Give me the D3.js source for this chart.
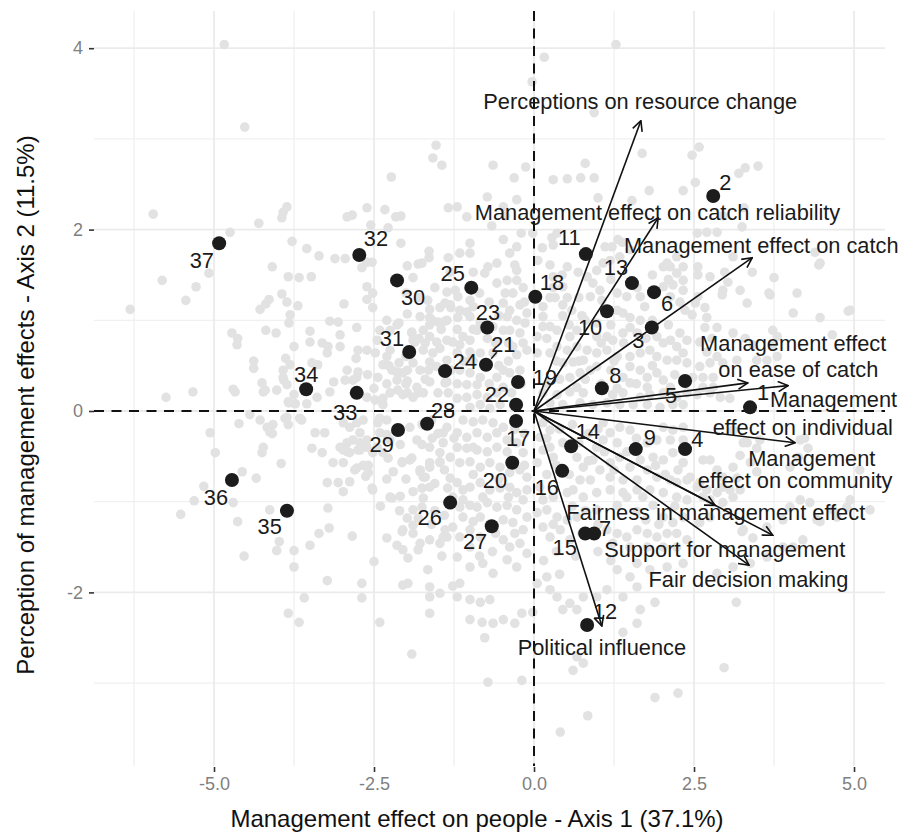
<!DOCTYPE html>
<meta charset="utf-8">
<script src="https://d3js.org/d3.v7.min.js"></script>
<style>
  body { margin: 0; background: #fff; }
  text { font-family: "Liberation Sans", Arial, Helvetica, sans-serif; }
</style>
<svg width="907" height="832"></svg>

<script>
    // axis limits and ticks
    const xLimits = [-6.875, 5.484],
        yLimits = [-3.914, 4.41];
    const xTicks = [-5, -2.5, 0, 2.5, 5],
        xTickLabels = ["-5.0", "-2.5", "0.0", "2.5", "5.0"];
    const yTicks = [-2, 0, 2, 4],
        yTickLabels = ["-2", "0", "2", "4"];
    const xMinor = [-6.25, -3.75, -1.25, 1.25, 3.75],
        yMinor = [-3, -1, 1, 3];

    // individual respondents (grey cloud)
    const greyScores = [
        [-4.84,4.04],[-4.52,3.13],[-1.53,2.93],[-1.58,2.79],[-1.44,2.71],[-2.23,2.58],[-1.34,2.24],[-5.95,2.17],[-3.86,2.25],[-3.92,2.19],
        [-3.94,2.13],[-4.30,2.07],[-4.75,1.97],[-2.92,2.14],[-2.84,2.16],[-2.61,2.24],[-2.33,2.22],[-2.16,2.14],[-2.08,2.15],[-2.55,2.05],
        [-2.28,2.02],[-3.78,1.87],[-3.55,1.79],[-3.36,1.71],[-3.11,1.68],[-2.95,1.68],[-2.08,1.85],[-1.64,1.76],[-1.64,1.69],[-2.61,1.64],
        [-2.53,1.64],[-2.69,1.58],[-5.81,1.44],[-5.08,1.52],[-5.28,1.37],[-5.44,1.22],[-6.31,1.12],[-4.09,1.59],[-3.84,1.48],[-3.67,1.47],
        [-3.48,1.48],[-1.98,1.60],[-1.81,1.62],[-1.89,1.47],[-1.55,1.36],[-3.94,1.29],[-3.86,1.20],[-3.69,1.16],[-4.14,1.23],[-4.19,1.18],
        [-4.28,1.12],[-3.81,1.06],[-3.83,0.97],[-2.61,1.37],[-2.61,1.23],[-2.97,1.18],[-1.98,1.07],[-1.63,1.12],[-1.39,1.19],[-1.30,1.14],
        [-3.19,0.99],[-3.06,0.98],[-2.11,0.97],[-1.63,1.03],[-1.63,0.95],[-1.39,0.99],[-4.72,0.86],[-4.63,0.80],[-4.64,0.73],[-4.19,0.89],
        [-4.03,0.86],[-3.50,0.88],[-3.50,0.76],[-3.75,0.71],[-3.31,0.75],[-3.22,0.71],[-3.03,0.71],[-3.03,0.84],[-2.77,0.92],[-2.75,0.67],
        [-2.61,0.67],[-2.48,0.64],[-1.91,0.86],[-1.86,0.76],[-1.70,0.75],[-4.38,0.55],[-4.38,0.47],[-3.88,0.58],[-3.81,0.51],[-3.92,0.45],
        [-3.91,0.34],[-3.47,0.53],[-2.78,0.58],[-2.27,0.50],[-2.11,0.53],[-2.14,0.43],[-1.98,0.45],[-1.63,0.54],[-2.92,0.45],[-2.75,0.43],
        [-3.13,0.32],[-2.95,0.34],[-2.44,0.37],[-2.14,0.34],[-1.98,0.33],[-4.25,0.31],[-4.20,0.23],[-4.02,0.23],[-3.86,0.29],[-4.70,0.24],
        [-5.33,0.21],[-5.75,0.15],[-3.75,0.18],[-3.39,0.15],[-3.19,0.21],[-2.61,0.15],[-2.36,0.14],[-1.98,0.20],[-2.13,0.23],[-1.81,0.20],
        [-1.34,0.20],[-1.39,0.31],[-3.83,0.09],[-3.23,0.64],[-3.38,0.51],[-2.77,0.37],[-2.83,0.34],[-3.92,0.37],
        [-4.44,-0.04],[-4.61,-0.14],[-5.06,-0.24],[-4.98,-0.46],[-4.28,-0.10],[-4.17,-0.18],[-4.08,-0.15],[-4.09,-0.25],[-3.89,-0.08],[-3.84,-0.15],
        [-3.63,-0.10],[-3.42,-0.24],[-3.27,-0.24],[-4.23,-0.40],[-4.25,-0.46],[-3.47,-0.41],[-3.31,-0.46],[-3.14,-0.57],[-2.98,-0.57],[-2.98,-0.13],
        [-2.88,-0.18],[-2.77,-0.13],[-2.67,-0.10],[-3.03,-0.40],[-2.92,-0.35],[-2.83,-0.32],[-2.72,-0.35],[-2.75,-0.43],[-2.91,-0.45],[-2.80,-0.65],
        [-2.67,-0.60],[-2.59,-0.60],[-2.88,-0.78],[-3.06,-0.79],[-3.23,-0.79],[-2.98,-0.89],[-2.63,-0.72],[-2.53,-0.85],[-2.44,-0.13],[-2.30,-0.26],
        [-2.45,-0.40],[-2.36,-0.46],[-2.28,-0.52],[-2.06,-0.57],[-1.94,-0.54],[-1.75,-0.37],[-1.59,-0.30],[-1.42,-0.24],[-1.42,-0.35],[-1.78,-0.67],
        [-1.73,-0.73],[-1.63,-0.57],[-1.47,-0.57],[-1.89,-0.89],[-1.63,-0.84],[-1.73,-0.96],[-2.22,-0.96],[-2.09,-0.94],[-3.95,-0.58],[-4.56,-0.67],
        [-4.34,-0.74],[-5.16,-0.83],[-5.31,-0.99],[-5.52,-1.14],[-4.70,-1.01],[-4.63,-1.22],[-4.53,-1.60],[-4.13,-1.09],[-3.98,-1.44],[-4.02,-1.54],
        [-3.75,-1.54],[-3.75,-1.72],[-3.50,-1.48],[-3.36,-1.35],[-3.20,-1.29],[-3.22,-1.07],[-2.84,-1.38],[-3.23,-1.87],[-2.69,-1.90],[-2.69,-2.06],
        [-2.50,-1.66],[-2.41,-2.33],[-3.59,-2.06],[-3.84,-2.23],[-3.67,-2.33],[-1.91,-2.68],[-2.14,-1.48],[-2.05,-1.53],[-1.97,-1.62],[-1.98,-1.18],
        [-2.06,-1.33],[-1.89,-1.26],[-1.81,-1.18],[-1.81,-1.53],[-1.78,-1.46],[-1.66,-1.75],[-1.63,-1.94],[-1.47,-2.01],[-1.63,-2.05],[-1.63,-2.23],
        [-1.44,-1.60],[-1.27,-1.93],[-2.05,-1.92],[-1.97,-1.90],[-1.42,-1.39],[-1.39,-1.31],
        [-4.67,0.21],[-4.23,0.21],[-3.84,0.10],[-3.73,0.08],[-3.55,0.08],[-4.13,-0.23],[-3.86,-0.07],[-3.66,-0.08],[-2.72,-0.24],[-2.61,-0.32],
        [-2.98,-0.43],[-2.88,-0.46],[-2.72,-0.43],[-2.61,-0.40],[-2.77,-0.63],[-2.59,-0.68],
        [-2.05,0.18],[-1.89,0.15],[-1.73,0.20],[-2.25,0.20],[-2.48,0.12],[-2.36,0.07],[-2.41,-0.08],[-1.20,0.14],[-1.05,0.15],[-0.89,0.18],
        [-0.73,0.15],[-0.58,0.20],[-1.00,0.04],[-0.84,0.07],[-0.69,0.03],[-0.53,0.07],[-1.11,-0.10],[-0.95,-0.12],[-0.80,-0.10],[-0.64,-0.13],
        [-0.48,-0.18],[-1.36,-0.18],[-1.20,-0.24],[-1.05,-0.29],[-0.89,-0.24],[-0.73,-0.29],[-0.58,-0.24],[-0.42,-0.32],[-1.94,-0.18],[-1.83,-0.32],
        [-2.41,-0.24],[-2.25,-0.32],[-2.09,-0.37],[-2.52,-0.46],[-1.63,-0.40],[-1.47,-0.46],[-1.31,-0.51],[-1.20,-0.40],[-1.05,-0.41],[-0.89,-0.43],
        [-0.73,-0.45],[-0.58,-0.40],[-0.42,-0.45],[-0.27,-0.35],[-0.17,-0.46],[-1.16,-0.57],[-1.00,-0.56],[-0.84,-0.62],[-0.69,-0.57],[-0.53,-0.62],
        [-0.38,-0.68],[-0.22,-0.65],[-0.11,-0.73],[-1.78,-0.65],[-1.63,-0.62],[-1.47,-0.56],[-2.06,-0.56],[-1.91,-0.52],[-2.20,-0.67],[-1.70,-0.73],
        [-1.31,-0.74],[-1.20,-0.79],[-1.11,-0.87],[-1.00,-0.84],[-0.84,-0.79],[-0.69,-0.87],[-0.53,-0.85],[-0.38,-0.84],[-0.27,-0.90],[-0.17,-0.98],
        [-0.11,-0.87],[-2.25,-0.95],[-2.52,-0.87],[-1.27,-0.95],[-1.11,-0.98],[-1.00,-1.04],[-1.16,-1.06],[-0.89,-1.06],[-0.73,-1.01],[-0.58,-1.06],
        [-0.42,-1.04],[-0.27,-1.09],[-0.11,-1.17],[-1.89,-1.09],[-1.75,-1.06],[-1.11,-1.17],[-0.95,-1.22],[-0.84,-1.17],[-0.48,-1.20],[-0.33,-1.23],
        [-0.17,-1.31],[-2.05,-1.31],[-1.89,-1.35],[-1.63,-1.42],[-1.27,-1.28],[-1.16,-1.39],[-1.00,-1.31],[-0.84,-1.39],[-1.00,-1.50],[-0.48,-1.42],
        [-0.38,-1.50],[-0.22,-1.46],[-1.47,-1.46],[-1.36,-1.39],[-1.20,-1.61],[-1.00,-1.72],[-0.80,-1.68],[-0.64,-1.79],[-0.42,-1.64],[-0.27,-1.72],
        [-0.11,-1.57],
        [-1.75,1.63],[-1.34,1.69],[-1.16,1.74],[-1.00,1.85],[-1.00,1.74],[-0.48,1.89],[-0.27,1.81],[-0.38,1.74],[-0.58,1.63],[-0.30,1.61],
        [-0.27,1.55],[-0.95,1.53],[-0.72,1.59],[-0.77,1.52],[-1.31,1.53],[-0.58,1.41],[-0.42,1.44],[-0.27,1.44],[-0.17,1.36],[-0.33,1.30],
        [-1.36,1.31],[-1.23,1.33],[-1.19,1.26],[-1.66,1.22],[-1.47,1.14],[-1.31,1.17],[-1.16,1.11],[-1.00,1.22],[-0.95,1.15],[-1.05,1.09],
        [-0.48,1.19],[-0.38,1.11],[-0.22,1.17],[-0.11,1.08],[-2.52,1.30],[-2.52,1.14],[-1.78,1.04],[-1.59,1.00],[-1.50,0.98],[-1.36,1.00],
        [-1.19,1.03],[-1.00,1.04],[-0.84,0.97],[-0.73,0.80],[-0.64,0.93],[-0.42,1.04],[-0.27,1.00],[-0.14,0.97],[-0.38,0.89],[-2.14,0.95],
        [-2.25,0.89],[-2.41,0.89],[-2.45,0.78],[-1.91,0.87],[-1.89,0.78],[-1.73,0.89],[-1.63,0.82],[-1.52,0.76],[-1.36,0.78],[-1.27,0.76],
        [-1.11,0.82],[-1.16,0.73],[-1.00,0.78],[-0.89,0.89],[-0.48,0.89],[-0.22,0.86],[-0.17,0.75],[-0.33,0.71],[-0.11,0.67],[-0.27,0.62],
        [-2.25,0.67],[-2.30,0.60],[-2.36,0.51],[-2.22,0.45],[-1.73,0.67],[-1.58,0.64],[-1.47,0.69],[-1.52,0.49],[-1.36,0.56],[-1.20,0.64],
        [-1.00,0.65],[-1.00,0.56],[-0.84,0.64],[-0.64,0.64],[-1.89,0.53],[-1.78,0.45],[-2.05,0.42],[-1.16,0.45],[-1.00,0.42],[-0.84,0.37],
        [-0.58,0.37],[-0.48,0.45],[-0.38,0.42],[-0.22,0.45],[-1.36,0.32],[-1.63,0.32],[-1.83,0.26],[-1.05,0.29],[-0.89,0.29],[-0.48,0.26],
        [-0.02,1.96],[0.13,1.80],[0.30,1.83],[0.06,1.66],[0.25,1.61],[0.52,1.59],[0.44,1.50],[0.30,1.48],[0.30,1.36],[0.33,1.25],
        [0.14,1.15],[0.14,1.04],[0.45,1.37],[0.52,1.25],[0.45,1.17],[0.59,1.11],[0.69,1.53],[0.83,1.48],[0.98,1.55],[1.08,1.63],
        [1.19,1.66],[1.34,1.70],[1.22,1.81],[1.38,1.86],[1.50,1.78],[0.92,1.41],[1.03,1.33],[0.88,1.26],[1.06,1.22],[1.30,1.30],
        [1.45,1.26],[1.61,1.36],[1.66,1.26],[1.73,1.15],[2.08,1.63],[2.23,1.52],[2.33,1.59],[2.02,1.37],[2.17,1.39],[2.33,1.44],
        [2.33,1.33],[2.13,1.26],[2.28,1.20],[2.36,1.11],[1.30,1.11],[1.39,1.08],[1.50,1.03],[1.66,1.00],[1.50,0.92],[1.61,0.86],
        [1.39,0.86],[0.14,0.93],[0.25,0.93],[0.36,0.89],[0.05,0.82],[0.56,0.82],[0.67,0.89],[0.98,0.97],[0.98,0.82],[1.14,0.82],
        [1.23,0.78],[1.92,0.82],[2.02,0.75],[2.13,0.78],[2.28,0.86],[2.39,0.78],[2.23,0.71],[2.33,0.64],[0.05,0.64],[0.25,0.64],
        [0.36,0.71],[0.52,0.67],[0.67,0.71],[0.83,0.67],[0.98,0.64],[1.14,0.67],[1.30,0.60],[1.50,0.60],[1.66,0.64],[1.81,0.67],
        [1.92,0.60],[2.08,0.56],[2.23,0.56],[2.39,0.53],[0.45,0.53],[0.61,0.54],[0.77,0.56],[0.88,0.45],[0.72,0.42],[0.56,0.37],
        [0.98,0.49],[1.50,0.49],[1.66,0.45],[1.39,0.37],[1.77,0.37],[1.92,0.42],[2.02,0.34],[1.50,0.31],[1.77,0.26],[2.13,0.26],
        [0.67,0.26],
        [0.14,0.20],[0.36,0.18],[0.56,0.21],[0.77,0.20],[1.23,0.18],[1.39,0.20],[1.66,0.15],[1.81,0.18],[2.02,0.20],[2.23,0.15],
        [2.39,0.20],[0.25,0.09],[0.45,0.07],[0.72,0.09],[0.92,0.07],[1.14,0.09],[1.34,0.07],[1.55,0.07],[1.77,0.07],[1.97,0.04],
        [2.17,0.07],[2.33,0.07],[0.14,-0.13],[0.25,-0.21],[0.09,-0.29],[1.08,-0.13],[1.19,-0.24],[1.34,-0.18],[1.50,-0.21],[1.30,-0.35],
        [1.08,-0.32],[0.98,-0.40],[2.02,-0.18],[2.17,-0.21],[2.33,-0.18],[2.13,-0.32],[2.33,-0.32],[1.92,-0.32],[1.77,-0.35],[1.86,-0.51],
        [2.02,-0.54],[2.17,-0.46],[2.33,-0.57],[0.14,-0.43],[0.25,-0.40],[0.05,-0.57],[0.30,-0.51],[0.67,-0.51],[0.77,-0.62],[0.92,-0.54],
        [1.03,-0.65],[1.19,-0.57],[1.34,-0.51],[1.50,-0.62],[1.66,-0.54],[1.77,-0.65],[1.19,-0.73],[1.39,-0.76],[1.61,-0.76],[0.88,-0.76],
        [0.72,-0.76],[1.92,-0.73],[2.13,-0.76],[2.23,-0.79],[2.39,-0.76],[0.09,-0.84],[0.14,-0.98],[0.30,-0.95],[0.52,-0.90],[0.61,-0.87],
        [0.77,-0.95],[0.98,-0.90],[1.19,-0.87],[1.39,-0.90],[1.61,-0.87],[1.81,-0.87],[2.02,-0.90],[2.23,-0.95],[2.39,-0.98],[0.05,-1.12],
        [0.20,-1.09],[0.36,-1.17],[0.52,-1.20],[0.67,-1.17],[2.02,-1.17],[2.17,-1.23],[2.33,-1.17],[2.23,-1.35],[2.39,-1.42],[0.14,-1.28],
        [0.25,-1.39],[0.41,-1.31],[0.56,-1.42],[1.14,-1.31],[1.30,-1.35],[1.45,-1.39],[1.61,-1.31],[1.77,-1.35],[1.92,-1.39],[2.08,-1.35],
        [1.23,-1.46],[1.50,-1.50],[1.77,-1.50],[2.02,-1.50],[2.23,-1.50],[0.98,-1.09],[1.30,-1.04],[1.61,-1.11],[1.86,-1.04],
        [-1.16,-1.90],[-1.20,-2.05],[-1.00,-2.08],[-0.84,-2.11],[-0.69,-2.08],[-1.00,-2.30],[-0.81,-2.33],[-0.64,-2.34],[-0.48,-2.30],[-0.30,-2.34],
        [-0.19,-2.23],[-0.77,-2.50],[-0.72,-2.99],[-0.19,-2.97],[0.25,-1.97],[0.36,-2.05],[0.45,-2.19],[0.67,-2.19],[0.56,-2.12],[0.05,-1.90],
        [0.20,-1.83],[0.77,-2.05],[0.98,-2.05],[1.14,-1.97],[1.39,-2.05],[1.61,-1.94],[1.66,-2.19],[1.89,-2.11],[1.39,-2.44],[1.61,-2.34],
        [0.61,-2.86],[0.77,-2.78],[0.67,-2.71],[3.16,-2.11],[2.97,-2.83],[2.25,-3.11],[1.89,-3.16],[0.84,-3.36],[0.41,-3.54],[-0.02,-2.22],
        [1.30,-1.75],[1.50,-1.83],[1.81,-1.75],[2.08,-1.72],[2.33,-1.68],[1.61,-1.68],[2.86,-1.79],[3.11,-1.72],[3.38,-1.68],[3.64,-1.61],
        [3.89,-1.50],[4.20,-1.42],[3.27,-1.31],[3.64,-1.28],[3.89,-1.20],[4.42,-1.20],[4.67,-1.09],[4.94,-0.98],[5.25,-1.09],[4.16,-0.32],
        [3.11,-0.21],[3.27,-0.35],[3.53,-0.32],[2.75,-0.54],[2.86,-0.65],[2.95,-0.73],[3.06,-0.87],[2.59,-0.79],[2.44,-0.73],[2.64,-0.95],
        [2.55,0.18],[2.75,0.20],[2.91,0.15],[3.06,0.14],[4.23,-0.30],[4.28,-0.41],[4.13,-0.51],[4.00,-0.62],[3.33,-0.35],[3.48,-0.41],
        [3.22,-0.49],[3.38,-0.57],[3.48,-0.67],[3.11,-0.62],[3.17,-0.74],[2.64,-0.54],[2.55,-0.84],[2.70,-0.87],[3.22,-0.87],[2.95,-0.84],
        [3.11,-0.95],[2.75,-0.98],[2.95,-1.01],[2.86,-0.90],[3.25,-1.33],[3.42,-1.40],[4.05,-1.50],[4.47,-1.22],[4.73,-1.17],[5.09,-0.65],
        [2.75,-1.17],[2.59,-1.23],[4.16,-0.98],[4.31,-1.01],[4.00,-1.06],[4.89,-1.06],
        [2.55,1.96],[2.70,1.97],[3.11,1.70],[4.39,1.75],[4.45,1.61],[2.56,1.59],[2.56,1.50],[2.75,1.48],[2.98,1.53],[3.03,1.42],
        [2.95,1.33],[2.94,1.28],[3.22,1.33],[3.41,1.53],[3.75,1.47],[3.69,1.28],[4.11,1.30],[3.33,1.19],[2.56,1.26],[2.67,1.14],
        [2.70,1.03],[2.47,1.06],[2.52,1.19],[4.05,1.08],[4.91,1.10],[2.67,0.92],[2.86,0.92],[2.78,0.80],[2.59,0.76],[3.11,0.86],
        [3.30,0.80],[3.42,0.73],[3.73,0.89],[3.80,0.82],[3.73,0.73],[4.66,0.84],[2.70,0.65],[2.86,0.60],[2.75,0.53],[2.59,0.49],
        [2.95,0.53],[3.17,0.56],[3.48,0.56],[3.64,0.56],[3.80,0.60],[2.48,0.37],[2.64,0.37],[2.80,0.37],[2.64,0.26],[2.80,0.26],
        [1.28,4.04],[0.16,3.90],[-0.03,3.63],[0.94,3.29],[2.58,2.91],[2.47,2.82],[1.69,2.84],[-0.64,2.71],[-0.13,2.69],[0.80,2.73],
        [3.30,2.68],[3.50,2.70],[3.20,2.62],[-0.31,2.57],[0.30,2.55],[0.52,2.56],[0.73,2.57],[0.94,2.57],[1.80,2.43],[2.33,2.43],
        [2.52,2.52],[-1.20,2.25],[-0.73,2.36],[-0.48,2.25],[-0.27,2.33],[1.00,2.35],[1.53,2.32],[2.95,2.15],[3.28,2.24],[2.86,1.97],
        [3.25,2.03],[-1.05,2.14],[-0.66,2.04],[-0.45,2.15],[-0.20,1.96],[0.28,1.91],[0.36,1.96],[1.11,1.81],[1.31,1.89],[2.23,1.70],
        [2.02,1.59],[2.13,1.59],[4.47,1.63],[3.67,1.30],[4.94,1.11],[4.47,1.03],
        // dense core, where the dots merge into a solid patch
        [0.20,-0.30],[0.40,-0.20],[0.60,-0.15],[0.85,-0.25],[1.00,-0.20],[0.35,-0.60],[0.55,-0.70],[0.20,-0.70],[0.60,-1.05],[0.80,-1.10],
        [1.00,-1.25],[0.85,-0.55],[1.10,-0.45],[1.45,-0.45],[1.60,-0.30],[1.25,-0.65],[1.45,-0.95],[1.70,-0.95],[1.90,-0.60],[2.05,-0.70],
        [2.25,-0.65],[1.00,-1.55],[1.20,-1.65],[0.35,-1.55],[0.65,-1.60],[0.15,-1.65],[0.40,-1.80],[1.75,-1.20],[1.95,-1.25],[2.20,-1.05],
        [0.45,-0.35],[0.70,-0.35],[0.30,-1.25],[0.75,-1.35],
        [0.20,0.30],[0.40,0.35],[0.80,0.35],[1.05,0.30],[1.20,0.45],[1.30,0.25],[1.60,0.30],[1.85,0.50],[2.20,0.40],[0.35,0.55],
        [0.70,0.55],[1.25,0.55],[1.05,0.75],[1.40,0.75],[1.75,0.80],[2.10,0.95],[1.85,1.00],[1.20,0.95],[0.80,1.00],[0.45,1.05],
        [0.25,1.25],[0.70,1.25],[0.75,1.05],[1.20,1.45],[1.85,1.50],[2.10,1.45],[0.20,0.80],[0.55,0.95],
        [-2.30,-0.10],[-2.15,-0.20],[-1.75,-0.15],[-1.60,-0.10],[-1.50,-0.25],[-1.25,-0.30],[-0.95,-0.40],[-0.30,-0.20],[-0.15,-0.25],[-0.35,-0.55],
        [-0.55,-0.75],[-0.80,-0.95],[-0.95,-0.70],[-1.40,-0.65],[-1.55,-0.80],[-1.35,-0.85],[-1.75,-0.85],[-2.00,-0.75],[-2.30,-0.75],[-2.40,-1.05],
        [-2.10,-1.10],[-1.55,-1.10],[-1.40,-1.15],[-0.70,-1.25],[-0.60,-1.35],[-0.30,-1.35],[-0.65,-1.55],[-0.85,-1.60],[-1.60,-1.25],[-2.30,-1.40],
        [-0.15,-0.60],[-0.40,-0.95],
        [-2.30,0.30],[-2.00,0.30],[-1.70,0.35],[-1.50,0.20],[-1.20,0.30],[-0.70,0.30],[-0.35,0.20],[-0.20,0.30],[-0.40,0.55],[-0.55,0.50],
        [-0.95,0.55],[-1.10,0.55],[-1.30,0.45],[-1.65,0.45],[-2.00,0.60],[-1.80,0.80],[-1.45,0.90],[-1.20,0.90],[-0.95,0.90],[-0.60,0.75],
        [-0.40,0.75],[-0.55,1.05],[-0.70,1.20],[-0.85,1.30],[-1.80,1.25],[-2.00,1.30],[-2.30,1.00],[-0.15,1.20],[-0.45,1.30],[-2.60,0.40],
        [-2.50,0.25]
    ];

    // community (site) means
    const siteIds = d3.range(1, 38);
    const siteX = [3.375, 2.80, 1.84, 2.36, 2.36, 1.875, 0.94, 1.06, 1.59, 1.14,
        0.81, 0.83, 1.53, 0.58, 0.80, 0.44, -0.28, 0.02, -0.25, -0.34,
        -0.75, -0.28, -0.73, -1.39, -0.98, -1.31, -0.66, -1.67, -2.125, -2.14,
        -1.95, -2.73, -2.77, -3.56, -3.86, -4.72, -4.92];
    const siteY = [0.04, 2.37, 0.92, -0.42, 0.33, 1.31, -1.35, 0.25, -0.42, 1.10,
        1.73, -2.36, 1.41, -0.39, -1.35, -0.66, -0.11, 1.26, 0.32, -0.57,
        0.51, 0.07, 0.92, 0.44, 1.36, -1.01, -1.27, -0.14, -0.21, 1.44,
        0.65, 1.72, 0.20, 0.24, -1.10, -0.76, 1.85];
    // repelled label positions (data units)
    const siteLabelX = [3.58, 2.99, 1.63, 2.55, 2.14, 2.08, 1.11, 1.27, 1.81, 0.875,
        0.55, 1.11, 1.28, 0.84, 0.48, 0.20, -0.25, 0.28, 0.17, -0.61,
        -0.48, -0.58, -0.72, -1.08, -1.27, -1.63, -0.92, -1.42, -2.38, -1.89,
        -2.22, -2.47, -2.95, -3.56, -4.13, -4.97, -5.19];
    const siteLabelY = [0.20, 2.52, 0.78, -0.31, 0.17, 1.19, -1.29, 0.39, -0.29, 0.92,
        1.91, -2.21, 1.58, -0.23, -1.50, -0.84, -0.30, 1.42, 0.37, -0.76,
        0.73, 0.18, 1.09, 0.55, 1.52, -1.17, -1.44, 0.01, -0.37, 1.25,
        0.80, 1.90, -0.01, 0.40, -1.27, -0.95, 1.66];
    const leaderIds = [21];

    // variable loadings (arrows)
    const varNames = ["Perceptions on resource change", "Management effect on catch reliability",
        "Management effect on catch", "Management effect on ease of catch", "Management effect on individual",
        "Management effect on community", "Fairness in management effect", "Support for management",
        "Fair decision making", "Political influence"];
    const varX = [1.67, 1.94, 3.41, 3.34, 3.97, 4.08, 2.83, 3.73, 3.36, 1.06];
    const varY = [3.20, 2.13, 1.69, 0.31, 0.28, -0.35, -1.04, -1.37, -1.70, -2.37];
    const varLabelLines = [["Perceptions on resource change"], ["Management effect on catch reliability"],
        ["Management effect on catch"], ["Management effect", "on ease of catch"], ["Management", "effect on individual"],
        ["Management", "effect on community"], ["Fairness in management effect"], ["Support for management"],
        ["Fair decision making"], ["Political influence"]];
    const varLabelX = [[1.66], [1.93], [3.55], [4.05, 4.13], [4.68, 4.20], [4.34, 4.08], [2.84], [2.98], [3.35], [1.06]];
    const varLabelY = [[3.41], [2.19], [1.83], [0.75, 0.46], [0.13, -0.18], [-0.52, -0.76], [-1.12], [-1.53], [-1.86], [-2.61]];

    const xTitle = "Management effect on people - Axis 1 (37.1%)",
        yTitle = "Perception of management effects - Axis 2 (11.5%)";

    const svg = d3.select("svg");

    const x = d3.scaleLinear().domain(xLimits).range([94, 885]);
    const y = d3.scaleLinear().domain(yLimits).range([766, 11]);

    // grid
    const grid = svg.append("g");
    grid.selectAll(".vminor").data(xMinor).enter().append("line")
        .attr("x1", d => x(d)).attr("x2", d => x(d)).attr("y1", 11).attr("y2", 766)
        .attr("stroke", "#f0f0f0").attr("stroke-width", 1.3);
    grid.selectAll(".hminor").data(yMinor).enter().append("line")
        .attr("x1", 94).attr("x2", 885).attr("y1", d => y(d)).attr("y2", d => y(d))
        .attr("stroke", "#f0f0f0").attr("stroke-width", 1.3);
    grid.selectAll(".vmajor").data(xTicks).enter().append("line")
        .attr("x1", d => x(d)).attr("x2", d => x(d)).attr("y1", 11).attr("y2", 766)
        .attr("stroke", "#ebebeb").attr("stroke-width", 1.8);
    grid.selectAll(".hmajor").data(yTicks).enter().append("line")
        .attr("x1", 94).attr("x2", 885).attr("y1", d => y(d)).attr("y2", d => y(d))
        .attr("stroke", "#ebebeb").attr("stroke-width", 1.8);

    // axes
    const xAxis = svg.append("g")
        .attr("transform", "translate(0,767)")
        .call(d3.axisBottom(x).tickValues(xTicks).tickFormat((d, i) => xTickLabels[i]).tickSize(5).tickPadding(5));
    const yAxis = svg.append("g")
        .attr("transform", "translate(94,0)")
        .call(d3.axisLeft(y).tickValues(yTicks).tickFormat((d, i) => yTickLabels[i]).tickSize(5).tickPadding(6));
    [xAxis, yAxis].forEach(a => {
        a.select(".domain").remove();
        a.selectAll(".tick line").attr("stroke", "#333").attr("stroke-width", 1.6);
        a.selectAll(".tick text").attr("fill", "#7f7f7f").style("font-size", "18px")
            .style("font-family", "'Liberation Sans', Arial, sans-serif");
    });

    // grey individual scores
    svg.append("g")
        .selectAll("circle")
        .data(greyScores)
        .enter()
        .append("circle")
        .attr("cx", d => x(d[0]))
        .attr("cy", d => y(d[1]))
        .attr("r", 4.8)
        .attr("fill", "#e2e2e2");

    // zero lines
    svg.append("line")
        .attr("x1", 94).attr("x2", 885).attr("y1", y(0)).attr("y2", y(0))
        .attr("stroke", "#111").attr("stroke-width", 2).attr("stroke-dasharray", "10,7.5");
    svg.append("line")
        .attr("x1", x(0)).attr("x2", x(0)).attr("y1", 11).attr("y2", 766)
        .attr("stroke", "#111").attr("stroke-width", 2).attr("stroke-dasharray", "10,7.5");

    // arrows
    svg.append("defs").append("marker")
        .attr("id", "head")
        .attr("viewBox", "0 0 12 12")
        .attr("refX", 11).attr("refY", 6)
        .attr("markerWidth", 12).attr("markerHeight", 12)
        .attr("markerUnits", "userSpaceOnUse")
        .attr("orient", "auto")
        .append("path")
        .attr("d", "M1,1 L11,6 L1,11")
        .attr("fill", "none")
        .attr("stroke", "#111")
        .attr("stroke-width", 1.6);

    svg.append("g")
        .selectAll("line")
        .data(varNames)
        .enter()
        .append("line")
        .attr("x1", x(0)).attr("y1", y(0))
        .attr("x2", (d, i) => x(varX[i]))
        .attr("y2", (d, i) => y(varY[i]))
        .attr("stroke", "#111")
        .attr("stroke-width", 1.6)
        .attr("marker-end", "url(#head)");

    const varLabels = svg.append("g");
    varNames.forEach((name, i) => {
        varLabelLines[i].forEach((line, j) => {
            varLabels.append("text")
                .attr("x", x(varLabelX[i][j]))
                .attr("y", y(varLabelY[i][j]))
                .attr("text-anchor", "middle")
                .attr("dy", "0.35em")
                .attr("fill", "#1a1a1a")
                .style("font-size", "21.8px")
                .text(line);
        });
    });

    // site means
    svg.append("g")
        .selectAll("circle")
        .data(siteIds)
        .enter()
        .append("circle")
        .attr("cx", (d, i) => x(siteX[i]))
        .attr("cy", (d, i) => y(siteY[i]))
        .attr("r", 7)
        .attr("fill", "#1c1c1c");

    // leader segments for repelled labels
    svg.append("g")
        .selectAll("line")
        .data(leaderIds)
        .enter()
        .append("line")
        .attr("x1", d => x(siteX[d - 1]) + 0.3 * (x(siteLabelX[d - 1]) - x(siteX[d - 1])))
        .attr("y1", d => y(siteY[d - 1]) + 0.3 * (y(siteLabelY[d - 1]) - y(siteY[d - 1])))
        .attr("x2", d => x(siteX[d - 1]) + 0.62 * (x(siteLabelX[d - 1]) - x(siteX[d - 1])))
        .attr("y2", d => y(siteY[d - 1]) + 0.62 * (y(siteLabelY[d - 1]) - y(siteY[d - 1])))
        .attr("stroke", "#1a1a1a")
        .attr("stroke-width", 1.5);

    svg.append("g")
        .selectAll("text")
        .data(siteIds)
        .enter()
        .append("text")
        .attr("x", (d, i) => x(siteLabelX[i]))
        .attr("y", (d, i) => y(siteLabelY[i]))
        .attr("text-anchor", "middle")
        .attr("dy", "0.35em")
        .attr("fill", "#1a1a1a")
        .style("font-size", "21.8px")
        .text(d => d);

    // axis titles
    svg.append("text")
        .attr("x", 477).attr("y", 827)
        .attr("text-anchor", "middle")
        .attr("fill", "#111")
        .style("font-size", "24px")
        .text(xTitle);
    svg.append("text")
        .attr("transform", "translate(34,405) rotate(-90)")
        .attr("text-anchor", "middle")
        .attr("fill", "#111")
        .style("font-size", "24px")
        .text(yTitle);
</script>
